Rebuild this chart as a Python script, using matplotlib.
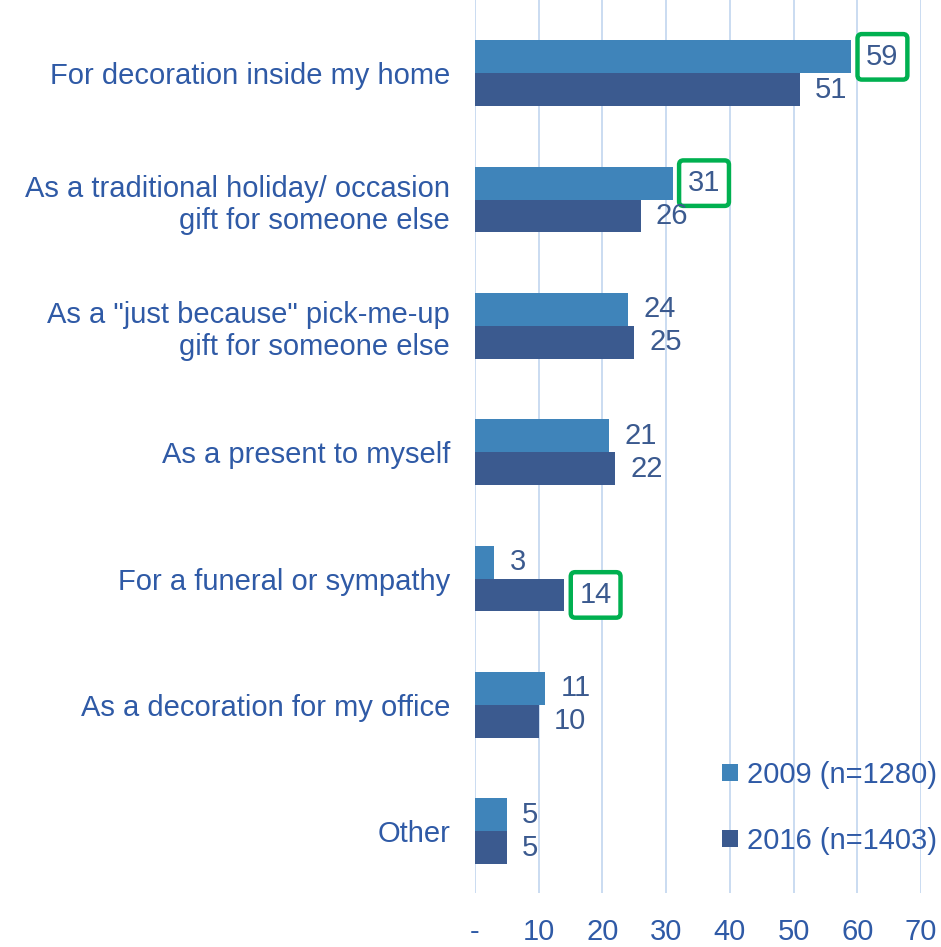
import matplotlib.pyplot as plt
import numpy as np

plt.rcParams['font.family'] = ['Liberation Sans', 'DejaVu Sans']

categories = ["For decoration inside my home",
              "As a traditional holiday/ occasion\ngift for someone else",
              "As a \"just because\" pick-me-up\ngift for someone else",
              "As a present to myself",
              "For a funeral or sympathy",
              "As a decoration for my office",
              "Other"]
vals_2009 = [59, 31, 24, 21, 3, 11, 5]
vals_2016 = [51, 26, 25, 22, 14, 10, 5]
# labels that get a green highlight box: (series, index)
highlight = [("2009", 0), ("2009", 1), ("2016", 4)]
series_names = ["2009 (n=1280)", "2016 (n=1403)"]

c09 = "#3f84ba"
c16 = "#3b5a8f"
txt = "#2f5aa6"
grid_c = "#c6d9f0"
green = "#00b050"
fs = 21

fig = plt.figure(figsize=(9.41, 9.47), dpi=100)
ax = fig.add_axes([0.5048, 0.057, 0.474, 0.943])

y = np.arange(len(categories))
h = 0.26
ax.barh(y - h/2, vals_2009, height=h, color=c09, label=series_names[0], zorder=2)
ax.barh(y + h/2, vals_2016, height=h, color=c16, label=series_names[1], zorder=2)

ax.set_xlim(0, 70)
ax.set_ylim(6.49, -0.58)
ax.set_xticks(range(0, 71, 10))
ax.set_xticklabels(["-"] + [str(v) for v in range(10, 71, 10)])
ax.set_yticks(y)
ax.set_yticklabels(categories, ha="right", multialignment="right")
ax.tick_params(axis="both", length=0, labelsize=fs, labelcolor=txt)
ax.tick_params(axis="x", pad=18)
ax.tick_params(axis="y", pad=18)
ax.grid(axis="x", color=grid_c, linewidth=1.3, zorder=0)
for s in ax.spines.values():
    s.set_visible(False)

for name, vals, offs in (("2009", vals_2009, -h/2), ("2016", vals_2016, h/2)):
    for i, v in enumerate(vals):
        t = ax.text(v + 2.4, i + offs, str(v), va="center", ha="left",
                    fontsize=fs, color=c16, zorder=3)
        if (name, i) in highlight:
            t.set_bbox(dict(boxstyle="round,pad=0.3,rounding_size=0.15",
                            facecolor="white", edgecolor=green, linewidth=3.2))

leg = ax.legend(loc="lower right", bbox_to_anchor=(1.036, 0.043), frameon=False,
                fontsize=fs, labelcolor=txt, handlelength=0.55, handleheight=0.55,
                handletextpad=0.3, labelspacing=1.3, borderpad=0, borderaxespad=0)

fig.savefig("out.png", dpi=100)
